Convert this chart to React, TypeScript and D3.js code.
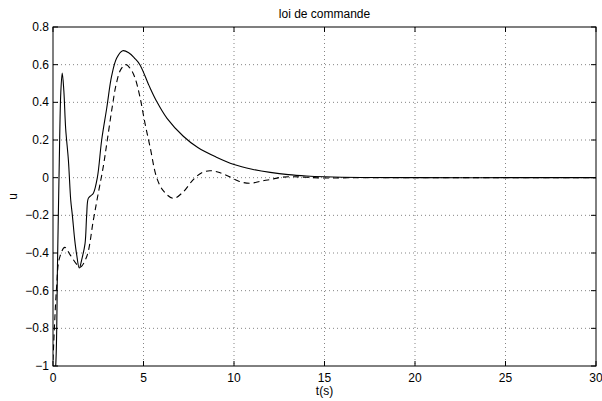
import React, { useRef, useEffect } from "react";
import * as d3 from "d3";

// valeurs
const tSolid = [0, 0.15, 0.25, 0.35, 0.43, 0.51, 0.6, 0.7, 0.85, 0.98, 1.07, 1.2, 1.31, 1.45, 1.6, 1.77, 1.86, 1.95, 2.1, 2.23, 2.45, 2.69, 2.97, 3.24, 3.52, 3.85, 4.2, 4.5, 4.8, 5.3, 5.7, 6.3, 7.2, 8.0, 9.0, 10.0, 11.0, 12.0, 13.0, 14.0, 15.0, 17.0, 20.0, 25.0, 30.0];
const uSolid = [-1.15, -1.0, -0.45, 0.1, 0.45, 0.555, 0.46, 0.26, 0.094, -0.12, -0.2, -0.33, -0.41, -0.48, -0.43, -0.35, -0.2, -0.11, -0.095, -0.083, 0, 0.2, 0.37, 0.54, 0.635, 0.674, 0.662, 0.635, 0.6, 0.49, 0.41, 0.315, 0.22, 0.16, 0.11, 0.07, 0.045, 0.028, 0.016, 0.009, 0.005, 0.001, 0, 0, 0];

const tDashed = [0, 0.1, 0.2, 0.35, 0.65, 0.95, 1.31, 1.5, 1.86, 2.23, 2.5, 2.78, 3.0, 3.28, 3.5, 3.75, 4.03, 4.3, 4.53, 4.8, 5.08, 5.36, 5.73, 6.1, 6.65, 7.2, 7.75, 8.2, 8.67, 9.1, 9.6, 10.3, 10.9, 11.5, 12.0, 12.6, 13.3, 14.0, 15.0, 16.0, 17.0, 20.0, 25.0, 30.0];
const uDashed = [-0.97, -0.75, -0.58, -0.43, -0.37, -0.41, -0.46, -0.475, -0.42, -0.225, -0.083, 0.06, 0.2, 0.38, 0.5, 0.575, 0.6, 0.575, 0.53, 0.43, 0.29, 0.165, 0, -0.07, -0.11, -0.075, -0.01, 0.025, 0.037, 0.03, 0.012, -0.02, -0.03, -0.018, -0.01, 0.002, 0.005, 0.002, -0.002, -0.001, 0, 0, 0, 0];

const xTicks = [0, 5, 10, 15, 20, 25, 30];
const yTicks = [-1, -0.8, -0.6, -0.4, -0.2, 0, 0.2, 0.4, 0.6, 0.8];

const W = 602;
const H = 401;
const margin = { left: 53, right: 6, top: 27, bottom: 35 };
const FONT = "'Liberation Sans', Arial, Helvetica, sans-serif";

function Chart() {
  const svgRef = useRef<SVGSVGElement>(null);

  useEffect(() => {
    const svg = d3.select(svgRef.current);
    svg.selectAll("*").remove();

    const x0 = margin.left, x1 = W - margin.right;
    const y0 = margin.top, y1 = H - margin.bottom;

    const x = d3.scaleLinear().domain([0, 30]).range([x0, x1]);
    const y = d3.scaleLinear().domain([-1, 0.8]).range([y1, y0]);

    svg.append("defs").append("clipPath").attr("id", "plot")
      .append("rect").attr("x", x0).attr("y", y0).attr("width", x1 - x0).attr("height", y1 - y0);

    // grille pointillée
    const grid = svg.append("g").attr("stroke", "#333").attr("stroke-width", 0.6)
      .attr("stroke-dasharray", "1,3");
    grid.selectAll(".gx").data(xTicks.slice(1, -1)).join("line")
      .attr("x1", d => x(d)).attr("x2", d => x(d)).attr("y1", y0).attr("y2", y1);
    grid.selectAll(".gy").data(yTicks.slice(1, -1)).join("line")
      .attr("y1", d => y(d)).attr("y2", d => y(d)).attr("x1", x0).attr("x2", x1);

    // courbes
    const pts = (ts: number[], us: number[]) => ts.map((t, i) => [t, us[i]] as [number, number]);
    const line = d3.line<[number, number]>().x(d => x(d[0])).y(d => y(d[1])).curve(d3.curveCatmullRom.alpha(0.5));
    const curves = svg.append("g").attr("clip-path", "url(#plot)").attr("fill", "none").attr("stroke", "#000");
    curves.append("path").attr("d", line(pts(tSolid, uSolid))).attr("stroke-width", 1.1);
    curves.append("path").attr("d", line(pts(tDashed, uDashed))).attr("stroke-width", 1.1)
      .attr("stroke-dasharray", "6,4");

    // cadre et graduations
    svg.append("rect").attr("x", x0).attr("y", y0).attr("width", x1 - x0).attr("height", y1 - y0)
      .attr("fill", "none").attr("stroke", "#000").attr("stroke-width", 1);
    const ticks = svg.append("g").attr("stroke", "#000").attr("stroke-width", 1);
    xTicks.forEach(t => {
      ticks.append("line").attr("x1", x(t)).attr("x2", x(t)).attr("y1", y1).attr("y2", y1 - 5);
      ticks.append("line").attr("x1", x(t)).attr("x2", x(t)).attr("y1", y0).attr("y2", y0 + 5);
    });
    yTicks.forEach(v => {
      ticks.append("line").attr("y1", y(v)).attr("y2", y(v)).attr("x1", x0).attr("x2", x0 + 5);
      ticks.append("line").attr("y1", y(v)).attr("y2", y(v)).attr("x1", x1).attr("x2", x1 - 5);
    });

    const txt = svg.append("g").attr("font-family", FONT).attr("font-size", 12).attr("fill", "#000");
    txt.selectAll(".xl").data(xTicks).join("text")
      .attr("x", d => x(d)).attr("y", y1 + 16).attr("text-anchor", "middle").text(d => String(d));
    txt.selectAll(".yl").data(yTicks).join("text")
      .attr("x", x0 - 4).attr("y", d => y(d) + 4).attr("text-anchor", "end")
      .text(d => (d < 0 ? "\u2212" : "") + String(Math.abs(d)));
    txt.append("text").attr("x", (x0 + x1) / 2).attr("y", 18).attr("text-anchor", "middle").text("loi de commande");
    txt.append("text").attr("x", (x0 + x1) / 2).attr("y", 395).attr("text-anchor", "middle").text("t(s)");
    txt.append("text").attr("transform", `translate(17,${(y0 + y1) / 2}) rotate(-90)`)
      .attr("text-anchor", "middle").text("u");
  }, []);

  return <svg ref={svgRef} width={W} height={H} style={{ display: "block" }} />;
}

export default function App() {
  return (
    <div style={{ position: "absolute", left: 0, top: 0, background: "#fff" }}>
      <Chart />
    </div>
  );
}
